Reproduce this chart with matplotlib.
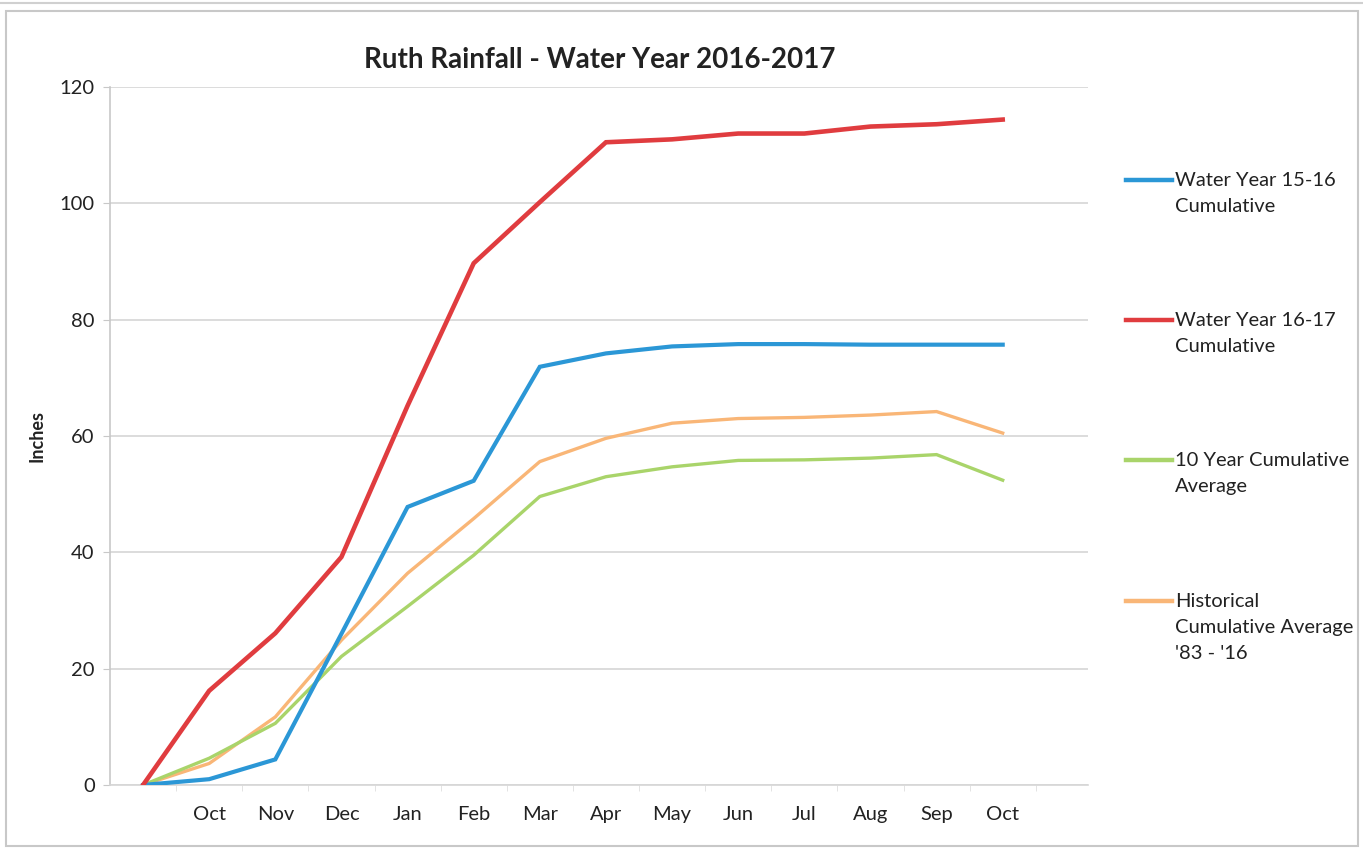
import numpy as np
import matplotlib
matplotlib.use('Agg')
import matplotlib.pyplot as plt
from matplotlib.lines import Line2D
from matplotlib.patches import Rectangle

plt.rcParams['font.family'] = ['Lato', 'DejaVu Sans']

# categories (first point is the start of the water year, unlabelled)
months = ['', 'Oct', 'Nov', 'Dec', 'Jan', 'Feb', 'Mar', 'Apr', 'May', 'Jun',
          'Jul', 'Aug', 'Sep', 'Oct']

# cumulative rainfall, inches
wy_15_16 = [0, 1.0, 4.4, 26.0, 47.8, 52.3, 71.9, 74.2, 75.4, 75.8, 75.8, 75.7, 75.7, 75.7]
wy_16_17 = [0, 16.2, 26.1, 39.2, 65.2, 89.7, 100.2, 110.5, 111.0, 112.0, 112.0, 113.2, 113.6, 114.4]
ten_year = [0, 4.6, 10.6, 22.1, 30.7, 39.5, 49.6, 53.0, 54.7, 55.8, 55.9, 56.2, 56.8, 52.4]
historical = [0, 3.7, 11.7, 24.9, 36.4, 45.8, 55.6, 59.6, 62.2, 63.0, 63.2, 63.6, 64.2, 60.5]

series_labels = ['Water Year 15-16\nCumulative',
                 'Water Year 16-17\nCumulative',
                 '10 Year Cumulative\nAverage',
                 "Historical\nCumulative Average\n'83 - '16"]
series_colors = ['#2b97d6', '#e03c3f', '#a9d46a', '#f9b677']
series_widths = [3.0, 3.3, 2.4, 2.4]
series_data = [wy_15_16, wy_16_17, ten_year, historical]

fig = plt.figure(figsize=(13.63, 8.5), dpi=100)
ax = fig.add_axes([110/1363, 1 - 785/850, (1088-110)/1363, (785-87)/850])

x = np.arange(len(months))
order = [3, 2, 0, 1]
for i in order:
    ax.plot(x, series_data[i], color=series_colors[i], lw=series_widths[i],
            solid_joinstyle='miter', zorder=3)

ax.set_xlim(-0.5, 14.29)
ax.set_ylim(0, 120)
ax.set_yticks(np.arange(0, 121, 20))
ax.grid(axis='y', color='#d6d6d6', lw=1.2)
ax.set_axisbelow(True)

ax.set_xticks(x)
ax.set_xticklabels(months)
ax.set_xticks(np.arange(0.5, 14, 1), minor=True)
ax.tick_params(axis='x', which='major', length=0, pad=15, labelsize=14.5, colors='#222222')
ax.tick_params(axis='x', which='minor', length=4, color='#dedede')
ax.tick_params(axis='y', length=5, color='#c8c8c8', pad=6, labelsize=14.5, colors='#222222')

for s in ['top', 'right']:
    ax.spines[s].set_visible(False)
ax.spines['left'].set_color('#c8c8c8')
ax.spines['bottom'].set_color('#d6d6d6')
ax.spines['left'].set_linewidth(1.2)
ax.spines['bottom'].set_linewidth(1.2)

ax.set_ylabel('Inches', fontsize=13, fontweight='bold', labelpad=10, color='#222222')
fig.text(600/1363, 1 - 60/850, 'Ruth Rainfall - Water Year 2016-2017',
         ha='center', va='center', fontsize=20, fontweight='bold', color='#222222')

# legend drawn by hand so the line sits beside the first text line
leg_y = [180, 320, 460, 601]
for i in range(4):
    yy = 1 - leg_y[i]/850
    fig.add_artist(Line2D([1126/1363, 1172/1363], [yy, yy],
                          color=series_colors[i], lw=3.2))
    fig.text(1175/1363, yy + 8/850, series_labels[i], ha='left', va='top',
             fontsize=14.5, color='#222222', linespacing=1.65)

# chart frame
fig.add_artist(Rectangle((6/1363, 4/850), 1352/1363, 835/850, transform=fig.transFigure,
                         fill=False, edgecolor='#c8c8c8', lw=1.5))
fig.add_artist(Line2D([0, 1], [1 - 3/850, 1 - 3/850], color='#d0d0d0', lw=1.5))

fig.savefig('out.png', dpi=100)
